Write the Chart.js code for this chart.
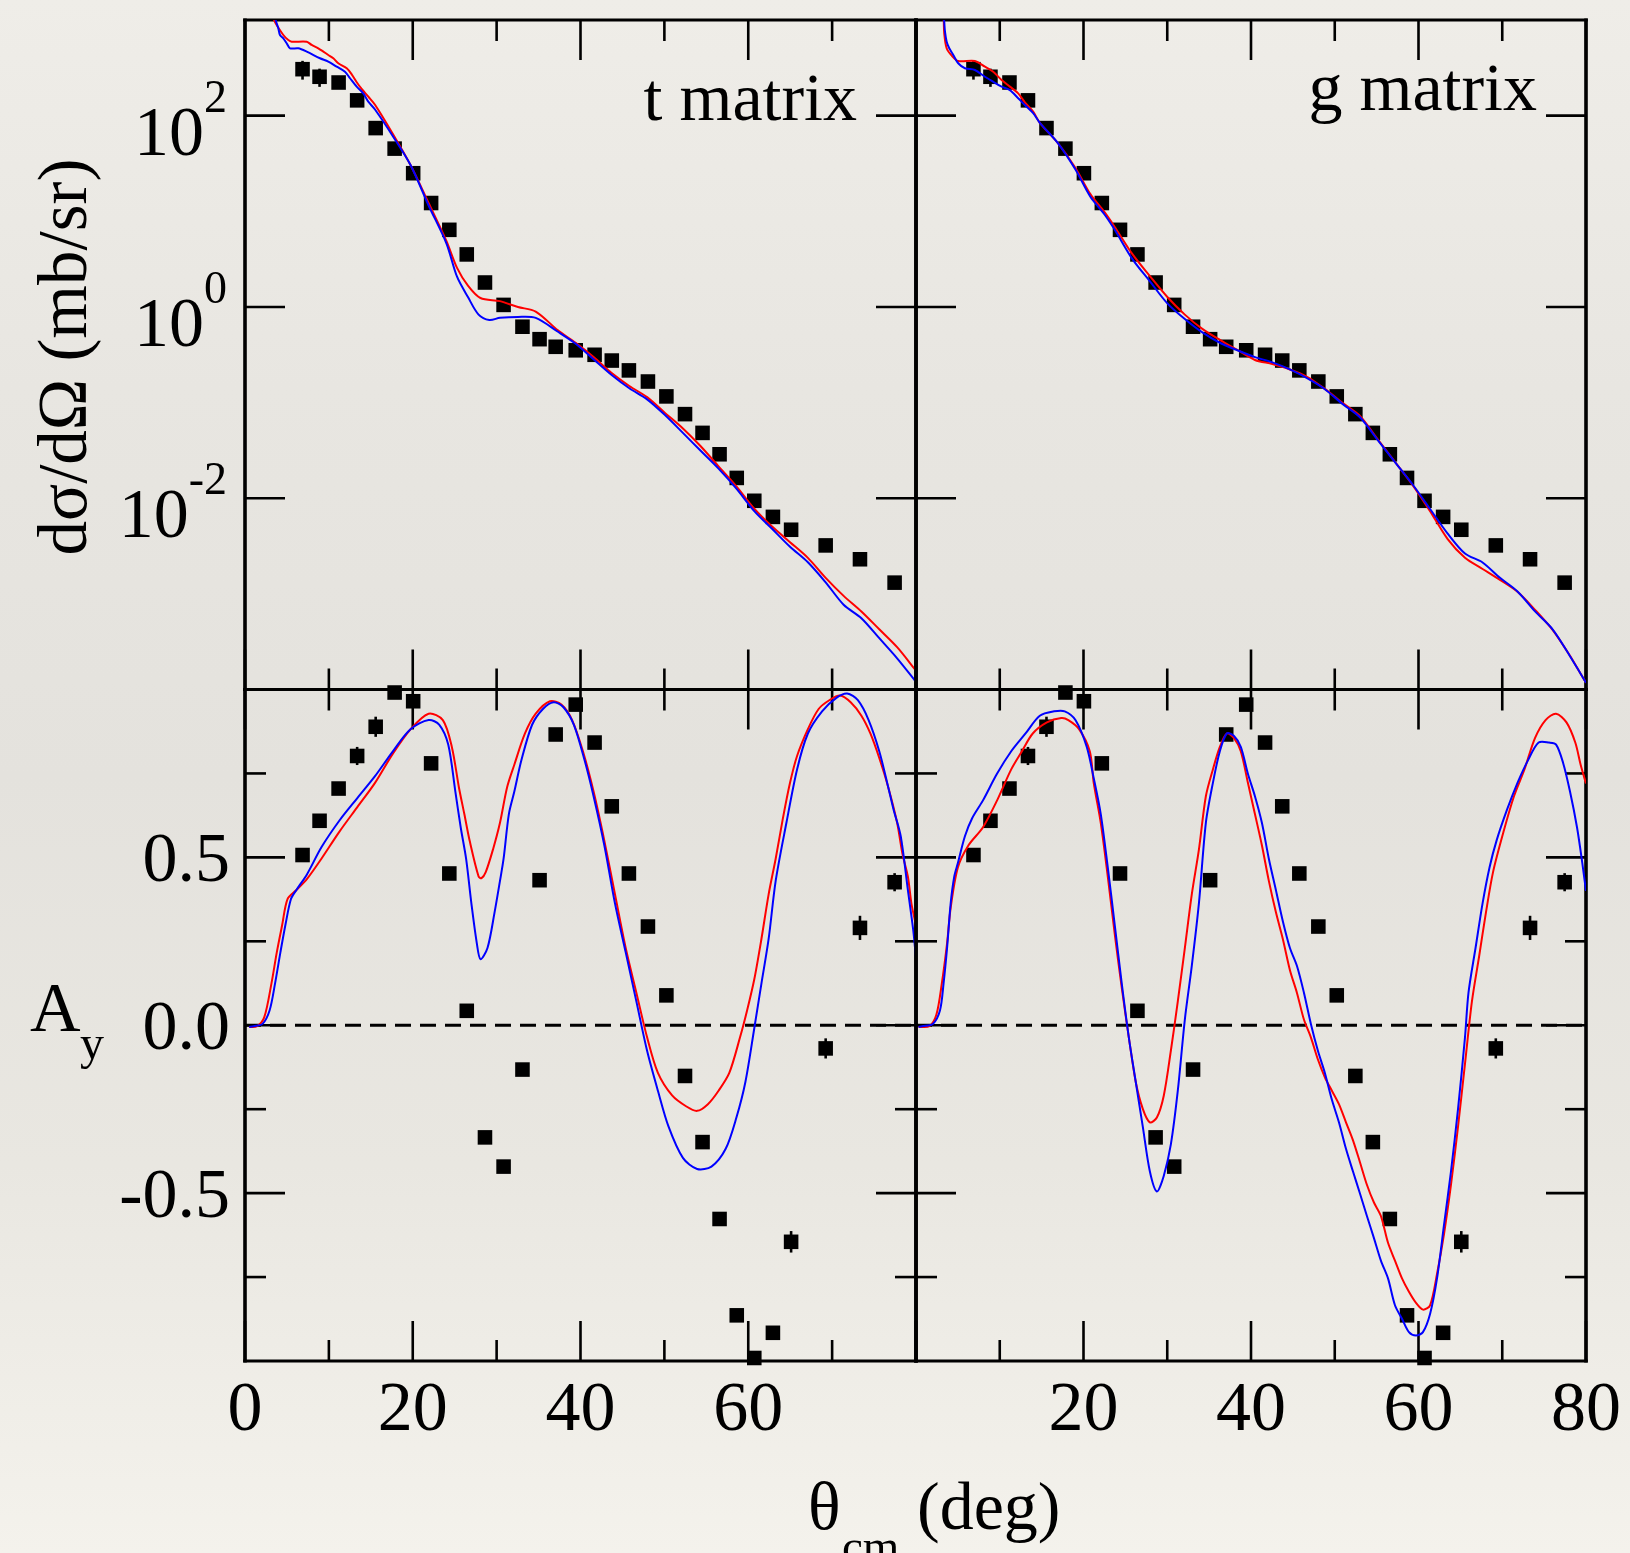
<!DOCTYPE html>
<html>
<head>
<meta charset="utf-8">
<title>t matrix / g matrix</title>
<script src="https://cdn.jsdelivr.net/npm/chart.js@4.4.1/dist/chart.umd.min.js"></script>
<style>
  html, body { margin: 0; padding: 0; }
  body { width: 1630px; height: 1553px; overflow: hidden; position: relative;
    background: linear-gradient(to bottom, #efede8 0%, #e8e6e1 25%, #e4e2dd 50%, #e9e7e1 75%, #f4f2ec 100%); }
  canvas { position: absolute; left: 0; top: 0; }
</style>
</head>
<body>
<canvas id="tl" width="1630" height="1553"></canvas>
<canvas id="tr" width="1630" height="1553"></canvas>
<canvas id="bl" width="1630" height="1553"></canvas>
<canvas id="br" width="1630" height="1553"></canvas>
<script>
// ---------------- DATA ----------------
// experimental angles (deg), shared by both observables
const expTheta = [6.86, 8.89, 11.16, 13.37, 15.58, 17.84, 20.05, 22.19, 24.36, 26.44, 28.61, 30.83, 33.08, 35.12, 37.04, 39.43, 41.68, 43.73, 45.77, 48.04, 50.24, 52.46, 54.55, 56.58, 58.63, 60.72, 62.94, 65.11, 69.23, 73.32, 77.45];
// dsigma/dOmega (mb/sr)
const expCs = [306, 255, 222, 144.5, 74.1, 45.2, 25.0, 12.2, 6.40, 3.54, 1.80, 1.05, 0.621, 0.460, 0.383, 0.352, 0.316, 0.275, 0.217, 0.166, 0.116, 0.0757, 0.0482, 0.0288, 0.0163, 0.0094, 0.00638, 0.00468, 0.00321, 0.00230, 0.00131];
const expCsErr = [68, 55, 0, 0, 0, 0, 0, 0, 0, 0, 0, 0, 0, 0, 0, 0, 0, 0, 0, 0, 0, 0, 0, 0, 0, 0, 0, 0, 0, 0, 0];
// analysing power A_y
const expAy = [0.507, 0.609, 0.705, 0.802, 0.889, 0.991, 0.965, 0.780, 0.452, 0.043, -0.334, -0.421, -0.132, 0.432, 0.866, 0.955, 0.842, 0.652, 0.452, 0.294, 0.089, -0.151, -0.348, -0.577, -0.864, -0.991, -0.916, -0.645, -0.069, 0.290, 0.426];
const expAyErr = [0, 0, 0, 0.027, 0.030, 0, 0, 0, 0, 0, 0, 0, 0, 0, 0, 0, 0, 0, 0, 0, 0, 0, 0, 0, 0, 0, 0, 0.032, 0.030, 0.036, 0.027];

// t matrix, cross section: blue curve
const tCsBlueTheta = [3.2, 3.66, 3.97, 4.17, 4.57, 4.97, 5.37, 6.35, 7.36, 8.94, 9.93, 10.93, 11.92, 12.52, 13.32, 14.10, 14.70, 15.50, 17.63, 19.75, 21.89, 24.01, 25.28, 26.58, 27.85, 29.13, 30.40, 32.54, 34.66, 37.21, 39.43, 41.56, 43.68, 45.82, 47.94, 50.07, 52.21, 54.33, 56.46, 58.59, 60.72, 62.84, 64.98, 67.11, 69.23, 71.37, 73.49, 75.62, 77.75, 79.88, 80];
const tCsBlueValue = [1600, 1000, 819, 697, 644, 571, 506, 506, 467, 398, 367, 325, 288, 246, 201, 171, 140, 116, 61.0, 30.3, 11.5, 4.63, 2.07, 1.27, 0.831, 0.730, 0.769, 0.787, 0.769, 0.557, 0.412, 0.283, 0.195, 0.141, 0.108, 0.0740, 0.0482, 0.0313, 0.0204, 0.0126, 0.00734, 0.00479, 0.00311, 0.00214, 0.00132, 0.00077, 0.000557, 0.000344, 0.000212, 0.000124, 0.000120];
// t matrix, cross section: red curve
const tCsRedTheta = [3.1, 3.46, 4.57, 5.16, 5.57, 7.36, 7.95, 8.74, 9.34, 9.93, 10.53, 11.12, 12.13, 12.72, 13.30, 13.91, 14.70, 15.50, 17.63, 19.75, 21.89, 24.01, 25.28, 26.58, 28.07, 30.40, 32.54, 34.66, 37.31, 39.43, 41.56, 43.68, 45.82, 47.94, 50.07, 52.21, 54.33, 56.46, 58.59, 60.72, 62.84, 64.98, 67.11, 69.23, 71.37, 73.49, 75.62, 77.75, 79.88, 80];
const tCsRedValue = [1500, 1000, 697, 618, 593, 593, 548, 506, 467, 431, 398, 353, 313, 270, 225, 190, 158, 130, 64.4, 30.3, 12.2, 4.90, 2.56, 1.67, 1.24, 1.15, 0.998, 0.895, 0.569, 0.421, 0.299, 0.205, 0.149, 0.114, 0.0780, 0.0536, 0.0349, 0.0215, 0.0133, 0.00776, 0.00505, 0.00347, 0.00238, 0.00147, 0.000953, 0.000654, 0.000426, 0.000277, 0.000162, 0.000157];

// g matrix, cross section: blue curve
const gCsBlueTheta = [3.2, 3.37, 3.46, 3.66, 3.97, 4.45, 5.04, 5.84, 7.03, 8.23, 9.22, 10.22, 11.21, 12.20, 13.00, 13.99, 14.78, 16.92, 19.04, 20.80, 22.49, 23.73, 25.82, 27.91, 30.01, 32.10, 34.19, 36.28, 38.37, 40.47, 42.55, 44.64, 46.74, 48.82, 50.92, 53.01, 55.09, 57.19, 59.28, 61.36, 63.46, 65.55, 67.65, 69.73, 71.82, 73.92, 76.01, 78.09, 79.36, 80];
const gCsBlueValue = [1400, 960, 755, 593, 506, 431, 353, 313, 300, 255, 226, 201, 185, 152, 129, 106, 84.2, 51.9, 27.3, 14.3, 9.31, 6.40, 3.18, 1.86, 1.09, 0.746, 0.541, 0.422, 0.352, 0.299, 0.263, 0.222, 0.179, 0.138, 0.0969, 0.0702, 0.0410, 0.0239, 0.0140, 0.00776, 0.00429, 0.00264, 0.00213, 0.00147, 0.00106, 0.000655, 0.000426, 0.000223, 0.000146, 0.000118];
// g matrix, cross section: red curve
const gCsRedTheta = [3.2, 3.31, 3.37, 3.66, 4.29, 5.04, 7.03, 8.23, 9.22, 10.22, 11.21, 12.20, 13.00, 13.99, 14.78, 16.92, 19.04, 20.80, 22.49, 23.73, 25.82, 27.91, 30.01, 32.10, 34.19, 36.28, 38.37, 40.47, 42.55, 44.64, 46.74, 48.82, 50.92, 53.01, 55.09, 57.19, 59.28, 61.36, 63.46, 65.55, 67.65, 69.73, 71.82, 73.92, 76.01, 78.09, 79.36, 80];
const gCsRedValue = [1300, 1000, 727, 506, 421, 372, 372, 325, 288, 236, 201, 171, 138, 110, 84.2, 51.9, 28.4, 15.2, 9.84, 6.86, 3.58, 2.11, 1.27, 0.831, 0.589, 0.452, 0.355, 0.279, 0.253, 0.222, 0.185, 0.139, 0.0993, 0.0726, 0.0417, 0.0240, 0.0138, 0.00738, 0.00376, 0.00238, 0.00182, 0.00140, 0.00105, 0.00068, 0.00042, 0.000225, 0.000146, 0.000118];

// t matrix, A_y: blue curve
const tAyBlueTheta = [0.5, 1.03, 2.09, 2.93, 3.58, 4.22, 4.85, 5.48, 6.13, 7.40, 9.11, 11.24, 13.37, 15.50, 17.63, 19.76, 21.89, 23.17, 24.23, 25.08, 25.72, 26.36, 26.99, 27.64, 28.07, 28.91, 29.76, 30.40, 30.83, 31.46, 32.11, 32.95, 34.23, 35.52, 36.79, 37.94, 39.21, 40.49, 41.56, 42.84, 44.11, 45.39, 46.66, 47.94, 49.23, 50.50, 52.21, 53.90, 55.61, 57.31, 58.59, 59.66, 60.72, 61.57, 62.43, 63.27, 64.55, 65.82, 67.11, 68.80, 70.51, 71.79, 73.07, 74.35, 75.62, 76.69, 77.33, 78.18, 79.03, 79.67, 80];
const tAyBlueValue = [-0.005, -0.003, 0.004, 0.044, 0.124, 0.217, 0.303, 0.376, 0.403, 0.450, 0.530, 0.609, 0.676, 0.742, 0.816, 0.882, 0.909, 0.895, 0.836, 0.696, 0.589, 0.496, 0.363, 0.244, 0.197, 0.230, 0.337, 0.430, 0.496, 0.629, 0.696, 0.789, 0.895, 0.942, 0.962, 0.948, 0.895, 0.789, 0.682, 0.536, 0.363, 0.217, 0.071, -0.076, -0.195, -0.302, -0.395, -0.428, -0.421, -0.368, -0.275, -0.169, -0.009, 0.124, 0.257, 0.430, 0.603, 0.762, 0.869, 0.935, 0.975, 0.988, 0.968, 0.909, 0.816, 0.709, 0.642, 0.563, 0.403, 0.283, 0.20];
// t matrix, A_y: red curve
const tAyRedTheta = [0.5, 1.44, 2.30, 3.15, 3.79, 4.42, 5.07, 6.13, 7.40, 9.11, 11.24, 13.37, 15.50, 17.63, 19.76, 21.89, 23.59, 24.66, 25.50, 26.15, 26.78, 27.85, 28.20, 28.70, 29.56, 30.40, 31.25, 32.11, 33.38, 34.66, 36.36, 37.72, 39.00, 40.29, 41.56, 42.84, 44.11, 45.39, 46.66, 47.94, 49.23, 50.92, 52.63, 53.90, 55.19, 56.46, 57.74, 59.02, 59.86, 60.72, 61.57, 62.43, 63.27, 64.13, 64.98, 65.82, 67.11, 68.39, 69.66, 70.94, 72.21, 73.49, 74.56, 75.62, 76.69, 77.75, 78.39, 79.03, 79.45, 79.88, 80];
const tAyRedValue = [-0.005, -0.003, 0.024, 0.124, 0.217, 0.297, 0.376, 0.403, 0.436, 0.496, 0.576, 0.649, 0.722, 0.809, 0.882, 0.928, 0.909, 0.829, 0.709, 0.629, 0.550, 0.443, 0.438, 0.456, 0.523, 0.603, 0.709, 0.776, 0.869, 0.928, 0.965, 0.955, 0.909, 0.816, 0.696, 0.550, 0.390, 0.230, 0.097, -0.036, -0.142, -0.209, -0.242, -0.255, -0.235, -0.195, -0.142, -0.036, 0.044, 0.137, 0.257, 0.390, 0.496, 0.616, 0.722, 0.802, 0.882, 0.942, 0.968, 0.982, 0.962, 0.922, 0.869, 0.796, 0.709, 0.603, 0.510, 0.443, 0.363, 0.310, 0.29];

// g matrix, A_y: blue curve
const gAyBlueTheta = [0.3, 0.73, 2.01, 2.86, 3.29, 3.71, 4.14, 4.57, 5.00, 5.84, 6.69, 7.98, 9.67, 11.37, 13.08, 14.78, 16.49, 17.76, 19.04, 20.39, 21.22, 22.06, 22.90, 23.74, 24.57, 25.41, 26.24, 27.08, 27.92, 28.76, 29.59, 30.43, 31.26, 32.10, 32.93, 33.78, 34.61, 35.45, 36.28, 37.11, 37.95, 38.78, 39.63, 40.47, 41.30, 42.13, 42.97, 43.80, 44.65, 45.48, 46.32, 47.15, 47.99, 48.82, 49.66, 50.50, 51.34, 52.17, 53.01, 53.84, 54.68, 55.51, 56.36, 57.19, 58.03, 58.86, 59.70, 60.53, 61.38, 62.21, 63.05, 63.88, 64.72, 65.55, 65.97, 66.81, 67.65, 68.48, 69.32, 70.57, 71.82, 73.07, 74.34, 75.59, 76.43, 77.26, 78.09, 78.93, 79.56, 80];
const gAyBlueValue = [-0.005, -0.003, 0.004, 0.044, 0.124, 0.230, 0.363, 0.443, 0.483, 0.563, 0.616, 0.669, 0.749, 0.816, 0.869, 0.922, 0.935, 0.935, 0.909, 0.829, 0.736, 0.629, 0.470, 0.297, 0.124, -0.036, -0.169, -0.302, -0.435, -0.495, -0.448, -0.355, -0.195, 0.017, 0.177, 0.363, 0.603, 0.722, 0.816, 0.869, 0.862, 0.829, 0.749, 0.682, 0.603, 0.496, 0.403, 0.310, 0.230, 0.177, 0.097, 0.004, -0.076, -0.142, -0.222, -0.289, -0.368, -0.435, -0.501, -0.568, -0.634, -0.701, -0.754, -0.834, -0.874, -0.914, -0.924, -0.914, -0.860, -0.754, -0.594, -0.435, -0.249, -0.036, 0.097, 0.230, 0.363, 0.470, 0.550, 0.642, 0.722, 0.789, 0.842, 0.842, 0.836, 0.782, 0.696, 0.589, 0.483, 0.40];
// g matrix, A_y: red curve
const gAyRedTheta = [0.3, 1.59, 2.43, 3.08, 3.71, 4.14, 5.00, 6.27, 7.98, 9.67, 11.37, 12.65, 13.94, 15.63, 17.34, 18.19, 19.47, 20.75, 21.22, 22.06, 22.90, 23.74, 24.57, 25.41, 26.24, 27.08, 27.92, 28.76, 29.59, 30.43, 31.26, 32.10, 32.93, 33.78, 34.61, 35.45, 36.28, 37.11, 37.95, 38.78, 39.63, 40.47, 41.30, 42.13, 42.97, 43.80, 44.65, 45.48, 46.32, 47.15, 47.99, 48.82, 49.66, 50.50, 51.34, 52.17, 53.01, 53.84, 54.68, 55.51, 56.36, 57.19, 58.03, 58.86, 59.70, 60.53, 61.38, 62.21, 63.05, 63.88, 64.72, 65.55, 66.38, 67.23, 68.06, 68.90, 70.15, 71.40, 72.65, 73.92, 75.17, 76.42, 77.67, 78.72, 79.36, 80];
const gAyRedValue = [-0.005, -0.003, 0.031, 0.124, 0.244, 0.350, 0.470, 0.536, 0.589, 0.669, 0.762, 0.816, 0.869, 0.902, 0.915, 0.909, 0.882, 0.816, 0.722, 0.603, 0.443, 0.270, 0.111, -0.036, -0.169, -0.249, -0.289, -0.275, -0.209, -0.076, 0.071, 0.230, 0.390, 0.523, 0.682, 0.762, 0.829, 0.869, 0.856, 0.816, 0.722, 0.629, 0.536, 0.430, 0.337, 0.257, 0.164, 0.097, 0.017, -0.036, -0.102, -0.155, -0.195, -0.235, -0.289, -0.342, -0.408, -0.475, -0.528, -0.568, -0.648, -0.701, -0.754, -0.794, -0.827, -0.847, -0.834, -0.741, -0.621, -0.475, -0.302, -0.115, 0.071, 0.204, 0.337, 0.456, 0.576, 0.682, 0.762, 0.856, 0.909, 0.928, 0.902, 0.842, 0.776, 0.72];

// A_y = 0 reference line
const zeroTheta = [0, 80];
const zeroValue = [0, 0];

// axis ticks and labels
const thetaMajorTicks = [0, 20, 40, 60, 80];
const thetaMinorTicks = [10, 30, 50, 70];
const thetaLabelsLeft = [0, 20, 40, 60];
const thetaLabelsRight = [20, 40, 60, 80];
const csMajorTicks = [1e2, 1e0, 1e-2];
const csTickExponents = ['2', '0', '-2'];
const ayMajorTicks = [0.5, 0, -0.5];
const ayMinorTicks = [0.75, 0.25, -0.25, -0.75];
const ayTickLabels = ['0.5', '0.0', '-0.5'];

// ---------------- DRAWING ----------------
const W = 1630, H = 1553;
const FONT = '"Liberation Serif", "Times New Roman", Times, serif';

function drawText(ctx, s, x, y, size, align, rot) {
  ctx.save();
  ctx.font = size + 'px ' + FONT;
  ctx.fillStyle = '#000';
  ctx.textBaseline = 'alphabetic';
  ctx.textAlign = align || 'left';
  ctx.translate(x, y);
  if (rot) ctx.rotate(rot);
  ctx.fillText(s, 0, 0);
  ctx.restore();
}

const panelPlugin = {
  id: 'panel',
  beforeDatasetsDraw(chart, args, o) {
    const ctx = chart.ctx, a = chart.chartArea, xs = chart.scales.x, ys = chart.scales.y;
    const MAJ = 40, MIN = 21, TW = 2.6;
    ctx.save();
    ctx.strokeStyle = '#000';
    ctx.lineCap = 'butt';
    const seg = (x1, y1, x2, y2, w) => { ctx.lineWidth = w; ctx.beginPath(); ctx.moveTo(x1, y1); ctx.lineTo(x2, y2); ctx.stroke(); };
    thetaMajorTicks.forEach(v => { const p = xs.getPixelForValue(v); seg(p, a.top, p, a.top + MAJ, TW); seg(p, a.bottom, p, a.bottom - MAJ, TW); });
    thetaMinorTicks.forEach(v => { const p = xs.getPixelForValue(v); seg(p, a.top, p, a.top + MIN, TW); seg(p, a.bottom, p, a.bottom - MIN, TW); });
    (o.yMajor || []).forEach(v => { const p = ys.getPixelForValue(v); seg(a.left, p, a.left + MAJ, p, TW); seg(a.right, p, a.right - MAJ, p, TW); });
    (o.yMinor || []).forEach(v => { const p = ys.getPixelForValue(v); seg(a.left, p, a.left + MIN, p, TW); seg(a.right, p, a.right - MIN, p, TW); });
    // frame
    seg(a.left, a.top - 1.5, a.left, a.bottom + 1.5, 3.6);
    seg(a.right, a.top - 1.5, a.right, a.bottom + 1.5, 3.6);
    seg(a.left - 1.8, a.top, a.right + 1.8, a.top, 3);
    seg(a.left - 1.8, a.bottom, a.right + 1.8, a.bottom, 3);
    // error bars
    if (o.errTheta) {
      o.errTheta.forEach((t, i) => {
        const e = o.errSize[i];
        if (!e) return;
        const px = xs.getPixelForValue(t);
        seg(px, ys.getPixelForValue(o.errValue[i] + e), px, ys.getPixelForValue(o.errValue[i] - e), 2.6);
      });
    }
    ctx.restore();
  },
  afterDraw(chart, args, o) {
    const ctx = chart.ctx, a = chart.chartArea, xs = chart.scales.x, ys = chart.scales.y;
    if (o.powLabels) {
      csMajorTicks.forEach((v, i) => {
        const py = ys.getPixelForValue(v);
        const ex = csTickExponents[i];
        ctx.font = '46px ' + FONT;
        const w = ctx.measureText(ex).width;
        const xr = a.left - 18;
        drawText(ctx, ex, xr - w, py - 4, 46, 'left');
        drawText(ctx, '10', xr - w, py + 39, 70, 'right');
      });
    }
    if (o.ayLabels) {
      ayMajorTicks.forEach((v, i) => {
        const py = ys.getPixelForValue(v);
        drawText(ctx, ayTickLabels[i], a.left - 15, py + 24, 70, 'right');
      });
    }
    if (o.xLabels) {
      o.xLabels.forEach(v => {
        drawText(ctx, String(v), xs.getPixelForValue(v), a.bottom + 69, 70, 'center');
      });
    }
    (o.texts || []).forEach(t => drawText(ctx, t.s, t.x, t.y, t.size, t.align, t.rot));
  }
};

function pts(xv, yv) { return xv.map((x, i) => ({ x: x, y: yv[i] })); }
function curveSet(xv, yv, color, order) {
  return { data: pts(xv, yv), showLine: true, borderColor: color, borderWidth: 2, pointRadius: 0, tension: 0.3, fill: false, order: order };
}
function expSet(xv, yv) {
  return { data: pts(xv, yv), showLine: false, pointStyle: 'rect', pointRadius: 10.3,
           pointBackgroundColor: '#000', pointBorderColor: '#000', pointBorderWidth: 0, order: 3, clip: false };
}
function zeroSet() {
  return { data: pts(zeroTheta, zeroValue), showLine: true, borderColor: '#000', borderWidth: 3.2, borderDash: [16, 9], pointRadius: 0, tension: 0, order: 2 };
}

function makePanel(id, area, yType, yMin, yMax, sets, opts) {
  return new Chart(document.getElementById(id), {
    type: 'scatter',
    data: { datasets: sets },
    options: {
      responsive: false, animation: false, devicePixelRatio: 1, events: [],
      layout: { padding: { left: area.left, top: area.top, right: W - area.right, bottom: H - area.bottom } },
      scales: {
        x: { type: 'linear', min: 0, max: 80, display: false },
        y: { type: yType, min: yMin, max: yMax, display: false }
      },
      plugins: { legend: { display: false }, tooltip: { enabled: false }, panel: opts }
    },
    plugins: [panelPlugin]
  });
}

const LEFT = { l: 245, r: 916 }, RIGHT = { l: 916, r: 1586 };
const TOP = { t: 20, b: 689.5 }, BOT = { t: 689.5, b: 1361 };

makePanel('tl', { left: LEFT.l, right: LEFT.r, top: TOP.t, bottom: TOP.b }, 'logarithmic', 1e-4, 1e3,
  [curveSet(tCsBlueTheta, tCsBlueValue, '#0000ff', 0), curveSet(tCsRedTheta, tCsRedValue, '#ff0000', 1), expSet(expTheta, expCs)],
  { yMajor: csMajorTicks, powLabels: true, errTheta: expTheta, errValue: expCs, errSize: expCsErr,
    texts: [ { s: 't matrix', x: 857, y: 120, size: 68, align: 'right' },
             { s: 'dσ/dΩ (mb/sr)', x: 86, y: 357, size: 69, align: 'center', rot: -Math.PI / 2 } ] });

makePanel('tr', { left: RIGHT.l, right: RIGHT.r, top: TOP.t, bottom: TOP.b }, 'logarithmic', 1e-4, 1e3,
  [curveSet(gCsBlueTheta, gCsBlueValue, '#0000ff', 0), curveSet(gCsRedTheta, gCsRedValue, '#ff0000', 1), expSet(expTheta, expCs)],
  { yMajor: csMajorTicks, errTheta: expTheta, errValue: expCs, errSize: expCsErr,
    texts: [ { s: 'g matrix', x: 1537, y: 110, size: 68, align: 'right' } ] });

makePanel('bl', { left: LEFT.l, right: LEFT.r, top: BOT.t, bottom: BOT.b }, 'linear', -1, 1,
  [curveSet(tAyBlueTheta, tAyBlueValue, '#0000ff', 0), curveSet(tAyRedTheta, tAyRedValue, '#ff0000', 1), zeroSet(), expSet(expTheta, expAy)],
  { yMajor: ayMajorTicks, yMinor: ayMinorTicks, ayLabels: true, xLabels: thetaLabelsLeft,
    errTheta: expTheta, errValue: expAy, errSize: expAyErr,
    texts: [ { s: 'A', x: 30, y: 1031, size: 70, align: 'left' },
             { s: 'y', x: 80, y: 1059, size: 48, align: 'left' } ] });

makePanel('br', { left: RIGHT.l, right: RIGHT.r, top: BOT.t, bottom: BOT.b }, 'linear', -1, 1,
  [curveSet(gAyBlueTheta, gAyBlueValue, '#0000ff', 0), curveSet(gAyRedTheta, gAyRedValue, '#ff0000', 1), zeroSet(), expSet(expTheta, expAy)],
  { yMajor: ayMajorTicks, yMinor: ayMinorTicks, xLabels: thetaLabelsRight,
    errTheta: expTheta, errValue: expAy, errSize: expAyErr,
    texts: [ { s: 'θ', x: 808, y: 1529, size: 68, align: 'left' },
             { s: 'cm', x: 842, y: 1562, size: 47, align: 'left' },
             { s: '(deg)', x: 917, y: 1529, size: 68, align: 'left' } ] });
</script>
</body>
</html>
